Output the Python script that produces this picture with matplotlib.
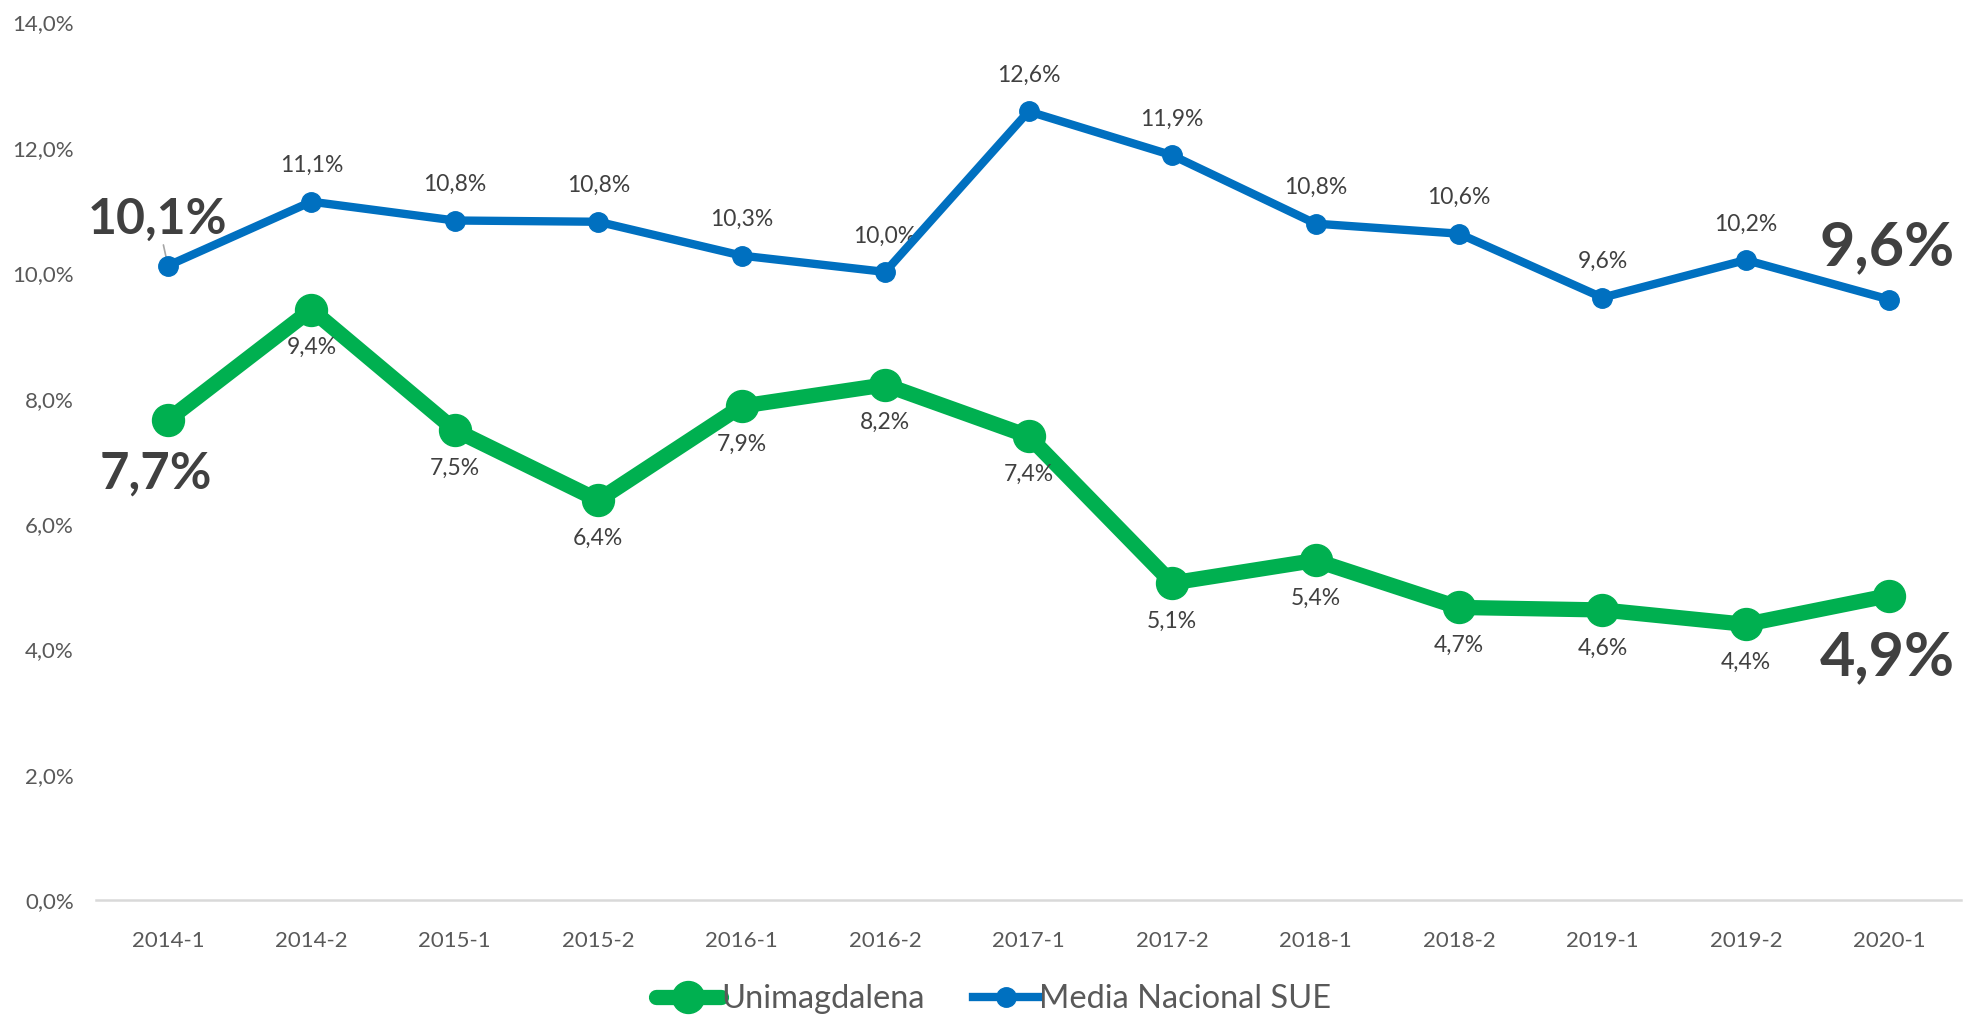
import matplotlib.pyplot as plt
from matplotlib.ticker import FuncFormatter

plt.rcParams['font.family'] = ['Lato', 'DejaVu Sans']

periodos = ['2014-1', '2014-2', '2015-1', '2015-2', '2016-1', '2016-2', '2017-1',
            '2017-2', '2018-1', '2018-2', '2019-1', '2019-2', '2020-1']
# tasas en %
unimagdalena = [7.66, 9.42, 7.5, 6.38, 7.88, 8.22, 7.4, 5.06, 5.42, 4.67, 4.63, 4.4, 4.86]
media_sue = [10.12, 11.14, 10.84, 10.82, 10.28, 10.02, 12.58, 11.88, 10.79, 10.63, 9.61, 10.21, 9.58]

VERDE = '#00B050'
AZUL = '#0070C0'
GRIS = '#404040'


def fmt(v):
    return f"{v:.1f}".replace('.', ',') + '%'


fig = plt.figure(figsize=(19.63, 10.15), dpi=100)
ax = fig.add_axes([0.049, 0.113, 0.950, 0.865])

x = list(range(len(periodos)))
ax.plot(x, unimagdalena, color=VERDE, lw=11, marker='o', ms=23,
        solid_capstyle='round', solid_joinstyle='round', label='Unimagdalena', zorder=3)
ax.plot(x, media_sue, color=AZUL, lw=6, marker='o', ms=14,
        solid_joinstyle='round', label='Media Nacional SUE', zorder=4)

ax.set_xlim(-0.5, len(periodos) - 0.5)
ax.set_ylim(0, 14)
ax.set_yticks(range(0, 15, 2))
ax.yaxis.set_major_formatter(FuncFormatter(lambda v, p: f"{v:.1f}".replace('.', ',') + '%'))
ax.set_xticks(x)
ax.set_xticklabels(periodos)
ax.tick_params(axis='both', length=0, labelsize=16, labelcolor='#595959')
ax.tick_params(axis='x', pad=22)
ax.tick_params(axis='y', pad=16)
for s in ['top', 'right', 'left']:
    ax.spines[s].set_visible(False)
ax.spines['bottom'].set_color('#D9D9D9')
ax.spines['bottom'].set_linewidth(1.8)

# etiquetas de datos
ultimo = len(periodos) - 1
for i, (g, b) in enumerate(zip(unimagdalena, media_sue)):
    if i in (0, ultimo):
        continue
    ax.annotate(fmt(b), (i, b), xytext=(0, 36), textcoords='offset pixels',
                ha='center', va='center', fontsize=16.5, color=GRIS)
    ax.annotate(fmt(g), (i, g), xytext=(0, -38), textcoords='offset pixels',
                ha='center', va='center', fontsize=16.5, color=GRIS)

# etiquetas grandes de extremos
ax.annotate(fmt(media_sue[0]), (0, media_sue[0]), xytext=(-10, 46), textcoords='offset pixels',
            ha='center', va='center', fontsize=36, fontweight='bold', color=GRIS,
            arrowprops=dict(arrowstyle='-', color='#A6A6A6', lw=1.2, shrinkA=20, shrinkB=5))
ax.annotate(fmt(unimagdalena[0]), (0, unimagdalena[0]), xytext=(-12, -54), textcoords='offset pixels',
            ha='center', va='center', fontsize=36.5, fontweight='bold', color=GRIS)
ax.annotate(fmt(media_sue[-1]), (ultimo, media_sue[-1]), xytext=(-2, 52), textcoords='offset pixels',
            ha='center', va='center', fontsize=44, fontweight='bold', color=GRIS)
ax.annotate(fmt(unimagdalena[-1]), (ultimo, unimagdalena[-1]), xytext=(-2, -62), textcoords='offset pixels',
            ha='center', va='center', fontsize=44, fontweight='bold', color=GRIS)

fig.legend(loc='lower center', bbox_to_anchor=(0.506, -0.028), ncol=2, frameon=False,
           fontsize=23.5, labelcolor='#595959', handlelength=2.0, handletextpad=0.0,
           columnspacing=1.5)

fig.savefig('out.png', dpi=100)
